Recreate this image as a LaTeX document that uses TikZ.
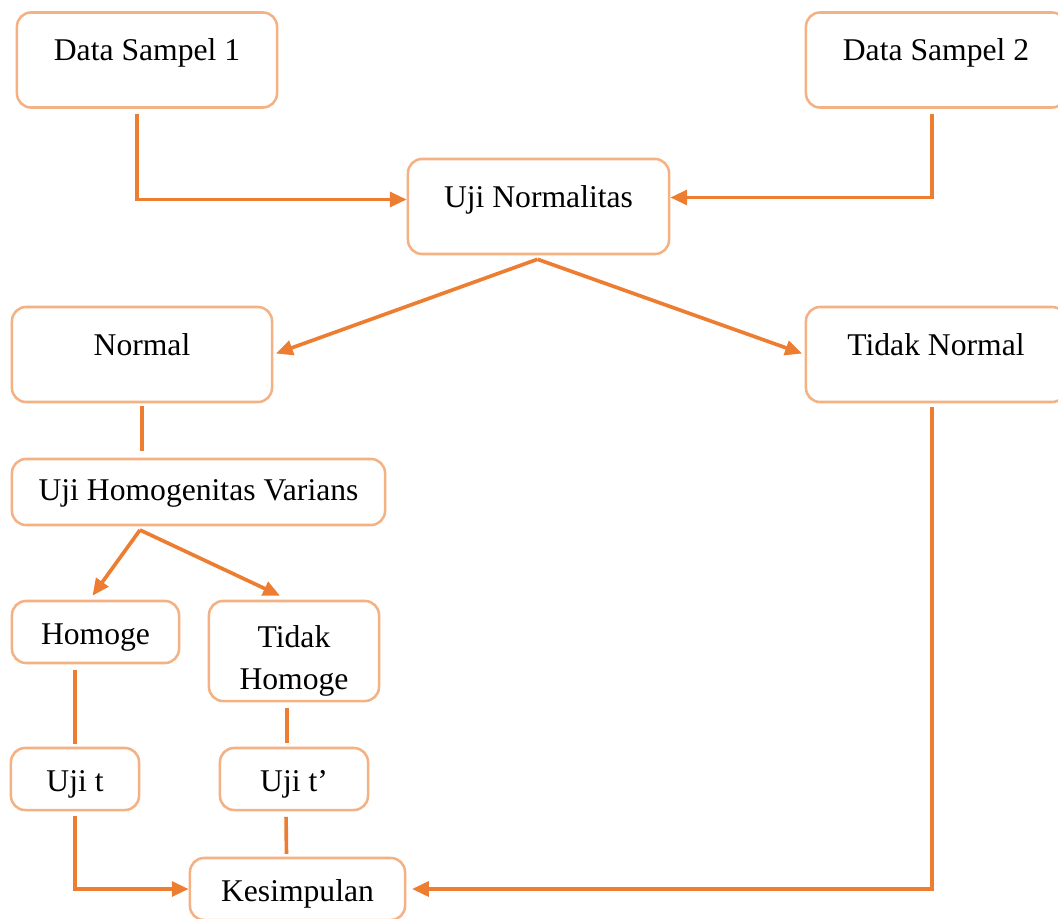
\documentclass[tikz,border=0pt]{standalone}
\usepackage{fontspec}
\setmainfont{Liberation Serif}
\usepackage{tikz}
\usetikzlibrary{arrows.meta,calc}

\definecolor{garisKotak}{HTML}{F4B183}
\definecolor{oranye}{HTML}{ED7D31}

\begin{document}
\begin{tikzpicture}[x=0.025cm, y=-0.025cm,
  kotak/.style={draw=garisKotak, line width=1.8pt, rounded corners=10pt, fill=white,
    align=center, inner sep=0pt, font=\fontsize{22.5}{30}\selectfont},
  besar/.style={minimum height=2.375cm, text height=16pt, text depth=15pt},
  kecil/.style={minimum height=1.55cm, text height=23pt, text depth=5pt},
  garis/.style={draw=oranye, line width=2.6pt},
  panah/.style={garis, -{Triangle[length=12pt,width=10.5pt]}}]
% batas gambar
\useasboundingbox (0,0) rectangle (1058,919);
\clip (0,0) rectangle (1058,919);

% Kotak-kotak
\node[kotak, besar, minimum width=6.5cm] (sampel1) at (147,60) {Data Sampel 1};
\node[kotak, besar, minimum width=6.5cm] (sampel2) at (936,60) {Data Sampel 2};
\node[kotak, besar, minimum width=6.525cm] (normalitas) at (538.5,206.5) {Uji Normalitas};
\node[kotak, besar, minimum width=6.5cm] (normal) at (142,354.5) {Normal};
\node[kotak, besar, minimum width=6.5cm] (tidaknormal) at (936,354.5) {Tidak Normal};
\node[kotak, minimum width=9.325cm, minimum height=1.65cm, text height=16pt, text depth=3.5pt] (homogenitas) at (198.5,492) {Uji Homogenitas Varians};
\node[kotak, kecil, minimum width=4.175cm] (homogen) at (95.5,632) {Homoge};
\node[kotak, minimum width=4.25cm, minimum height=2.5cm] (tidakhomogen) at (294,651) {\rule{0pt}{30pt}Tidak\\Homoge};
\node[kotak, kecil, minimum width=3.2cm] (ujit) at (75,779) {Uji t};
\node[kotak, kecil, minimum width=3.7cm] (ujitaksen) at (294,779) {Uji t’};
\node[kotak, kecil, minimum width=5.375cm] (kesimpulan) at (297.5,889) {Kesimpulan};

% Data sampel ke uji normalitas
\draw[panah] ($(sampel1.south)+(-10,5)$) |- ($(normalitas.west)+(0,-7)$);
\draw[panah] ($(sampel2.south)+(-4,5)$) |- ($(normalitas.east)+(0,-9)$);

% Cabang hasil normalitas
\coordinate (cabang1) at ($(normalitas.south)+(-1,4)$);
\draw[panah, shorten >=2pt] (cabang1) -- (normal.east);
\draw[panah, shorten >=2pt] (cabang1) -- (tidaknormal.west);
\draw[garis, shorten <=2pt, shorten >=5pt] (normal.south) -- (normal.south |- homogenitas.north);

% Cabang homogenitas
\coordinate (cabang2) at (140,530);
\draw[panah] (cabang2) -- ($(homogen.north)+(-3,-4)$);
\draw[panah] (cabang2) -- ($(tidakhomogen.north)+(-14,-4)$);
\draw[garis, shorten <=4pt, shorten >=2pt] (ujit.north |- homogen.south) -- (ujit.north);
\draw[garis, shorten <=4pt, shorten >=3pt] ($(tidakhomogen.south)+(-7,0)$) -- ($(ujitaksen.north)+(-7,0)$);

% Menuju kesimpulan
\draw[garis, shorten <=4pt, shorten >=2pt] ($(ujitaksen.south)+(-8,0)$) -- ($(kesimpulan.north)+(-11,0)$);
\draw[panah, shorten <=3pt] (ujit.south) |- (kesimpulan.west);
\draw[panah, shorten <=3pt, shorten >=4pt] ($(tidaknormal.south)+(-4,0)$) |- (kesimpulan.east);
\end{tikzpicture}
\end{document}
